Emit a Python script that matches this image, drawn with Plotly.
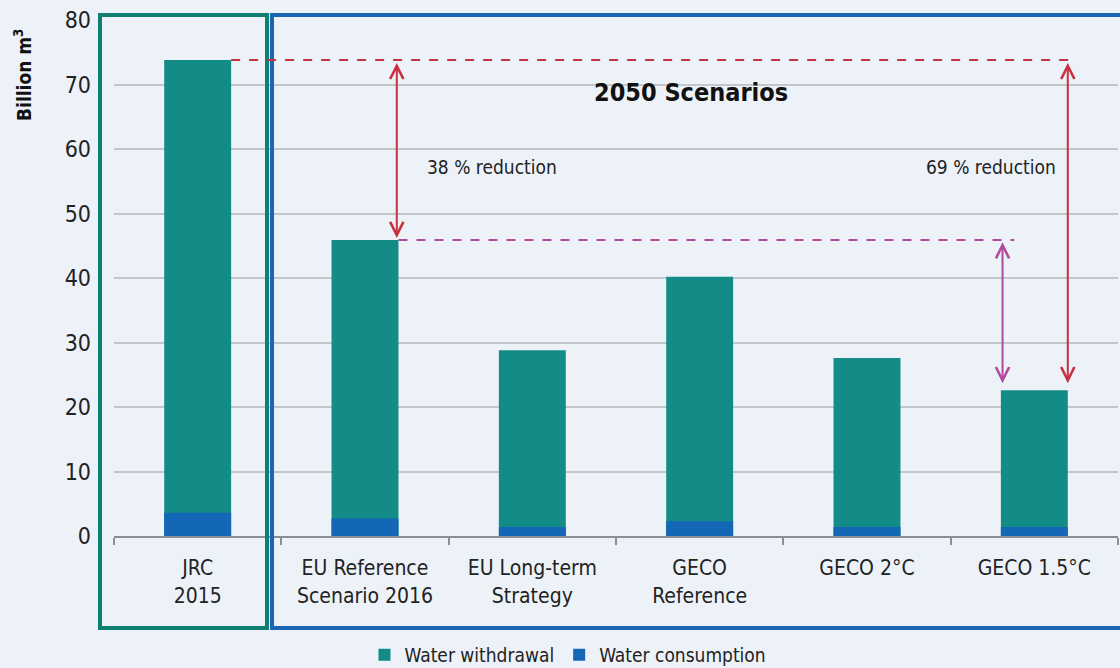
import plotly.graph_objects as go

FONT = "Liberation Sans Narrow, DejaVu Sans Condensed, Noto Sans, sans-serif"

categories = [
    "JRC<br>2015",
    "EU Reference<br>Scenario 2016",
    "EU Long-term<br>Strategy",
    "GECO<br>Reference",
    "GECO 2°C",
    "GECO 1.5°C",
]
withdrawal = [73.8, 45.9, 28.8, 40.2, 27.6, 22.6]
consumption = [3.6, 2.7, 1.4, 2.3, 1.4, 1.4]
y_ticks = [0, 10, 20, 30, 40, 50, 60, 70, 80]

TEAL = "#138b87"
BLUE = "#1467b6"
RED = "#c9303f"
PINK = "#b04a9a"

fig = go.Figure()
fig.add_trace(go.Bar(x=categories, y=withdrawal, name="Water withdrawal",
                     marker={"color": TEAL, "line": {"width": 0}}, width=0.4))
fig.add_trace(go.Bar(x=categories, y=consumption, name="Water consumption",
                     marker={"color": BLUE, "line": {"width": 0}}, width=0.4))

# frames around the 2015 baseline and the 2050 scenarios (paper coords)
W, H = 1004, 516
def px_x(v):
    return (v - 114) / W
def px_y(v):
    return (536 - v) / H

fig.add_shape(type="rect", xref="paper", yref="paper",
              x0=px_x(100), x1=px_x(267), y0=px_y(628), y1=px_y(15),
              line={"color": "#0f7f74", "width": 4})
fig.add_shape(type="rect", xref="paper", yref="paper",
              x0=px_x(272), x1=px_x(1130), y0=px_y(628), y1=px_y(15),
              line={"color": "#1a66b3", "width": 4})

# dashed reference lines
base, ref, low = withdrawal[0], withdrawal[1], withdrawal[5]
fig.add_shape(type="line", x0=0.2, x1=5.25, y0=base, y1=base,
              line={"color": RED, "width": 2, "dash": "dash"})
fig.add_shape(type="line", x0=1.2, x1=4.88, y0=ref, y1=ref,
              line={"color": PINK, "width": 2, "dash": "dash"})

def double_arrow(x, y0, y1, color):
    fig.add_annotation(x=x, y=y1, ax=x, ay=y0, axref="x", ayref="y",
                       text=" ", font={"size": 1}, borderpad=0,
                       showarrow=True, arrowhead=5, startarrowhead=5,
                       arrowside="end+start", arrowwidth=2, arrowsize=1.3,
                       startarrowsize=1.3, arrowcolor=color)

double_arrow(1.19, base - 0.3, ref + 0.3, RED)
double_arrow(4.81, ref - 0.2, low + 1.1, PINK)
double_arrow(5.20, base - 0.3, low + 1.1, RED)

fig.add_annotation(x=1.36, y=57.2, text="38 % reduction", showarrow=False,
                   xanchor="left", font={"size": 19, "color": "#222"})
fig.add_annotation(x=5.14, y=57.2, text="69 % reduction", showarrow=False,
                   xanchor="right", font={"size": 19, "color": "#222"})
fig.add_annotation(x=2.95, y=68.8, text="<b>2050 Scenarios</b>", showarrow=False,
                   font={"size": 25, "color": "#111"})
fig.add_annotation(xref="paper", yref="paper", x=px_x(23), y=px_y(75),
                   xanchor="center", yanchor="middle",
                   text="<b>Billion m<sup>3</sup></b>", textangle=-90, showarrow=False,
                   font={"size": 19, "color": "#111"})

fig.update_layout(
    width=1120, height=668,
    margin={"l": 114, "r": 2, "t": 20, "b": 132, "autoexpand": False},
    paper_bgcolor="#edf2f9", plot_bgcolor="#edf2f9",
    barmode="overlay",
    font={"family": FONT, "color": "#222", "size": 20},
    showlegend=True,
    legend={"orientation": "h", "x": px_x(568), "xanchor": "center",
            "y": px_y(655), "yanchor": "middle", "font": {"size": 19},
            "bgcolor": "rgba(0,0,0,0)", "itemwidth": 30, "tracegroupgap": 0},
    xaxis={"showline": True, "linecolor": "#8a8f94", "linewidth": 2,
           "ticks": "outside", "tickson": "boundaries", "ticklen": 7,
           "tickcolor": "#8a8f94", "tickwidth": 2, "showgrid": False,
           "tickfont": {"size": 21}, "ticklabelstandoff": 12},
    yaxis={"range": [0, 80], "tickvals": y_ticks, "showgrid": True,
           "gridcolor": "#c3c7cc", "gridwidth": 2, "zeroline": False,
           "tickfont": {"size": 23}, "ticklabelstandoff": 22},
)

fig.write_html("out.html", config={"displayModeBar": False},
               post_script="document.body.style.margin='0';")
